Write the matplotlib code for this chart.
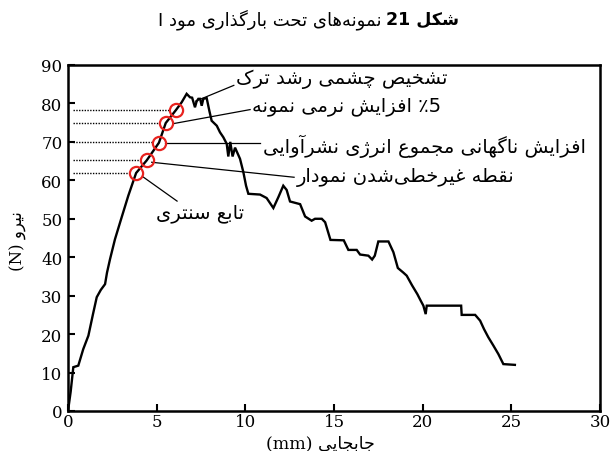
import re
import matplotlib
matplotlib.use("Agg")
import matplotlib.pyplot as plt

# ---------------- data ----------------
disp_mm = [0, 0.15, 0.3, 0.58, 0.86, 1.15, 1.4, 1.62, 1.85, 2.09, 2.2, 2.37, 2.65, 3.0, 3.4,
           3.84, 4.44, 5.13, 5.51, 6.09, 6.41, 6.69, 6.88, 7.0, 7.16, 7.25, 7.35, 7.45, 7.54,
           7.63, 7.82, 7.97, 8.1, 8.39, 8.57, 8.76, 8.95, 9.04, 9.15, 9.28, 9.42, 9.7, 9.89,
           10.04, 10.17, 10.83, 11.2, 11.58, 11.86, 12.14, 12.33, 12.52, 13.09, 13.37, 13.74,
           13.93, 14.31, 14.5, 14.8, 15.55, 15.81, 16.28, 16.47, 16.94, 17.15, 17.3, 17.5,
           18.07, 18.35, 18.6, 18.91, 19.1, 19.4, 19.7, 19.9, 20.04, 20.17, 20.23, 22.17,
           22.2, 22.96, 23.24, 23.46, 23.7, 23.99, 24.27, 24.55, 25.2]
force_N = [0, 5, 11.4, 11.8, 16.1, 19.6, 25, 29.6, 31.5, 33, 36, 39.5, 44.7, 50, 56,
           61.9, 65.2, 69.8, 74.9, 78.3, 80.3, 82.5, 81.6, 81.5, 79.0, 80.5, 81.2, 81.2, 79.4,
           81.2, 81.4, 78.1, 75.5, 74.2, 72.5, 71.2, 69.5, 66.2, 70.0, 66.2, 68.5, 65.6, 62.1,
           58.6, 56.5, 56.3, 55.4, 52.8, 55.6, 58.6, 57.5, 54.5, 53.8, 50.6, 49.5,
           50.0, 50.0, 49.1, 44.5, 44.4, 41.9, 41.9, 40.7, 40.4, 39.4, 40.4, 44.1,
           44.1, 41.3, 37.2, 36.0, 35.2, 32.7, 30.4, 28.6, 27.4, 25.2, 27.4, 27.4,
           25.0, 25.0, 23.5, 21.3, 19.2, 17.0, 14.8, 12.2, 12.0]

# marked points (circles) and their dotted reference levels
mark_x = [3.84, 4.44, 5.13, 5.51, 6.09]
mark_y = [61.9, 65.2, 69.8, 74.9, 78.3]
level_y = [61.9, 65.3, 69.9, 74.9, 78.4]

# annotations: label, leader start (x,y), leader end (x,y), text anchor (x,y), h-align
ann_labels = ["تشخیص چشمی رشد ترک",
              "افزایش نرمی نمونه",
              "افزایش ناگهانی مجموع انرژی نشرآوایی",
              "نقطه غیرخطی\u200cشدن نمودار",
              "تابع سنتری"]
ann_suffix = ["", " ٪5", "", "", ""]
ann_start = [(7.2, 80.6), (6.0, 74.8), (5.45, 69.6), (4.72, 64.7), (4.2, 61.0)]
ann_end = [(9.35, 84.7), (10.27, 78.4), (10.85, 69.6), (12.75, 60.8), (6.15, 54.6)]
ann_text = [(9.5, 86.6), (10.35, 79.4), (11.0, 69.2), (12.9, 61.0), (7.45, 51.6)]
ann_ha = ["left", "left", "left", "left", "center"]

xticks = [0, 5, 10, 15, 20, 25, 30]
yticks = [0, 10, 20, 30, 40, 50, 60, 70, 80, 90]
xlabel = "جابجایی (mm)"
ylabel = "نیرو (N)"
title_bold = "شکل 21"
title_rest = "نمونه\u200cهای تحت بارگذاری مود I"

# ---------------- Arabic shaping (presentation forms) ----------------
_BASE = {
    '\u0621': (0xFE80, 1), '\u0622': (0xFE81, 2), '\u0623': (0xFE83, 2), '\u0624': (0xFE85, 2),
    '\u0625': (0xFE87, 2), '\u0626': (0xFE89, 4), '\u0627': (0xFE8D, 2), '\u0628': (0xFE8F, 4),
    '\u0629': (0xFE93, 2), '\u062A': (0xFE95, 4), '\u062B': (0xFE99, 4), '\u062C': (0xFE9D, 4),
    '\u062D': (0xFEA1, 4), '\u062E': (0xFEA5, 4), '\u062F': (0xFEA9, 2), '\u0630': (0xFEAB, 2),
    '\u0631': (0xFEAD, 2), '\u0632': (0xFEAF, 2), '\u0633': (0xFEB1, 4), '\u0634': (0xFEB5, 4),
    '\u0635': (0xFEB9, 4), '\u0636': (0xFEBD, 4), '\u0637': (0xFEC1, 4), '\u0638': (0xFEC5, 4),
    '\u0639': (0xFEC9, 4), '\u063A': (0xFECD, 4), '\u0641': (0xFED1, 4), '\u0642': (0xFED5, 4),
    '\u0643': (0xFED9, 4), '\u0644': (0xFEDD, 4), '\u0645': (0xFEE1, 4), '\u0646': (0xFEE5, 4),
    '\u0647': (0xFEE9, 4), '\u0648': (0xFEED, 2), '\u0649': (0xFEEF, 2), '\u064A': (0xFEF1, 4),
    '\u067E': (0xFB56, 4), '\u0686': (0xFB7A, 4), '\u0698': (0xFB8A, 2), '\u06A9': (0xFB8E, 4),
    '\u06AF': (0xFB92, 4), '\u06CC': (0xFBFC, 4),
}
_MIRROR = str.maketrans("()", ")(")


def _shape(s):
    out = []
    n = len(s)
    for i, ch in enumerate(s):
        if ch not in _BASE:
            out.append(ch)
            continue
        start, nf = _BASE[ch]
        prev = s[i - 1] if i > 0 else ''
        nxt = s[i + 1] if i + 1 < n else ''
        jp = nf >= 2 and prev in _BASE and _BASE[prev][1] == 4
        jn = nf == 4 and nxt in _BASE and _BASE[nxt][1] >= 2
        if jp and jn:
            k = 3
        elif jp:
            k = 1
        elif jn:
            k = 2
        else:
            k = 0
        out.append(chr(start + k))
    return ''.join(out)


def rtl(s):
    s = _shape(s)
    runs = re.findall(r'[A-Za-z0-9.]+|[^A-Za-z0-9.]+', s)
    out = []
    for r in reversed(runs):
        if re.match(r'[A-Za-z0-9.]', r):
            out.append(r)
        else:
            out.append(r[::-1].translate(_MIRROR))
    return ''.join(out)


AR = ['DejaVu Sans']
SERIF = ['DejaVu Serif']
MIXED = ['DejaVu Serif', 'DejaVu Sans']

# ---------------- figure ----------------
fig = plt.figure(figsize=(6.1, 4.52), dpi=100)
ax = fig.add_axes([68 / 610, 40 / 452, 532 / 610, 346 / 452])

ax.plot(disp_mm, force_N, color='black', lw=1.7, solid_joinstyle='miter', zorder=3)

for yl, mx in zip(level_y, mark_x):
    ax.plot([0.3, mx - 0.36], [yl, yl], color='black', lw=1.0, ls=(0, (1.0, 1.0)), zorder=2)

ax.plot(mark_x, mark_y, ls='none', marker='o', ms=9.5, mfc='none', mec='#e8231f', mew=1.6, zorder=4)

for lab, suf, st, en, tx, ha in zip(ann_labels, ann_suffix, ann_start, ann_end, ann_text, ann_ha):
    ax.plot([st[0], en[0]], [st[1], en[1]], color='black', lw=0.9, zorder=2)
    txt = rtl(lab) + suf
    ax.text(tx[0], tx[1], txt, ha=ha, va='center', fontsize=14, family=AR)

ax.set_xlim(0, 30)
ax.set_ylim(0, 90)
ax.set_xticks(xticks)
ax.set_yticks(yticks)
ax.set_xticklabels([str(v) for v in xticks], family=SERIF, fontsize=12)
ax.set_yticklabels([str(v) for v in yticks], family=SERIF, fontsize=12)
ax.tick_params(direction='in', length=5, width=1.5, top=False, right=False, colors='black')
ax.tick_params(axis='x', pad=1.5)
ax.tick_params(axis='y', pad=4)
for sp in ax.spines.values():
    sp.set_linewidth(1.8)
    sp.set_color('black')

fig.text(320 / 610, 1 - 444 / 452, rtl(xlabel), ha='center', va='center', fontsize=12.5, family=MIXED)
fig.text(18 / 610, 1 - 241 / 452, rtl(ylabel), ha='center', va='center', rotation=90, fontsize=12, family=MIXED)

fig.text(382 / 610, 1 - 20 / 452, rtl(title_rest), ha='right', va='center', fontsize=13, family=AR)
fig.text(386 / 610, 1 - 20 / 452, rtl(title_bold), ha='left', va='center', fontsize=12.5, family=AR, weight='bold')

fig.savefig('out.png', dpi=100)
